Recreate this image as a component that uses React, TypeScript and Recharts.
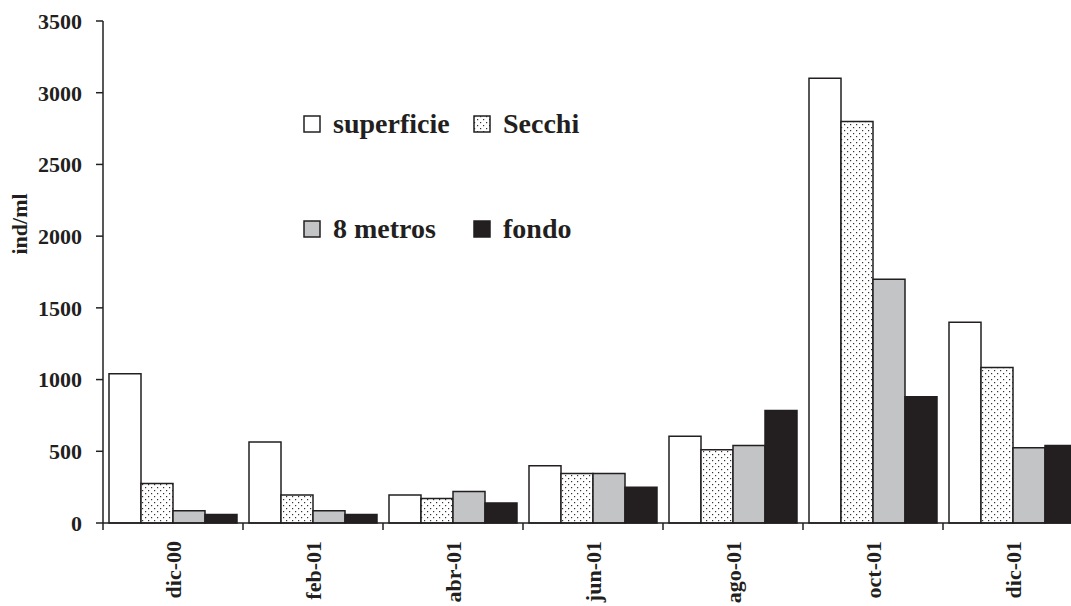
import { BarChart, Bar, XAxis, YAxis, Legend } from 'recharts'

// months sampled
const categories = ['dic-00', 'feb-01', 'abr-01', 'jun-01', 'ago-01', 'oct-01', 'dic-01']

// ind/ml per depth
const superficie = [1040, 565, 195, 400, 605, 3100, 1400]
const secchi = [275, 195, 170, 345, 510, 2800, 1085]
const metros8 = [85, 85, 220, 345, 540, 1700, 525]
const fondo = [60, 60, 140, 250, 785, 880, 540]

const yTicks = [0, 500, 1000, 1500, 2000, 2500, 3000, 3500]

const data = categories.map((month, i) => ({
  month,
  superficie: superficie[i],
  secchi: secchi[i],
  metros8: metros8[i],
  fondo: fondo[i],
}))

const INK = '#231f20'
const FONT = '"Liberation Serif", "Times New Roman", serif'

const CHART_W = 1100
const CHART_H = 606
const MARGIN = { top: 21, right: 17, bottom: 0, left: 0 }
const Y_AXIS_W = 103
const X_AXIS_H = 83
const HALF_BAND = (CHART_W - MARGIN.left - MARGIN.right - Y_AXIS_W) / categories.length / 2

const series = [
  { key: 'superficie', name: 'superficie', fill: '#ffffff' },
  { key: 'secchi', name: 'Secchi', fill: 'url(#dots)' },
  { key: 'metros8', name: '8 metros', fill: '#c3c4c6' },
  { key: 'fondo', name: 'fondo', fill: INK },
]

const DotPattern = ({ id }: { id: string }) => (
  <pattern id={id} width={6} height={6} patternUnits="userSpaceOnUse">
    <rect width={6} height={6} fill="#ffffff" />
    <rect x={1} y={1} width={1.2} height={1.2} fill="#333" />
    <rect x={4} y={4} width={1.2} height={1.2} fill="#333" />
  </pattern>
)

const MonthTick = ({ x, y, payload }: any) => {
  const ty = y + 18
  return (
    <g>
      <line x1={x - HALF_BAND} y1={y} x2={x - HALF_BAND} y2={y + 7} stroke={INK} strokeWidth={1.5} />
      <text
        x={x}
        y={ty}
        dy="0.35em"
        transform={`rotate(-90 ${x} ${ty})`}
        textAnchor="end"
        fill={INK}
        fontFamily={FONT}
        fontWeight="bold"
        fontSize={22}
      >
        {payload.value}
      </text>
    </g>
  )
}

const legendPos = [
  { left: 0, top: 0 },
  { left: 170, top: 0 },
  { left: 0, top: 105 },
  { left: 170, top: 105 },
]

const LegendContent = () => (
  <div style={{ position: 'relative', width: 320, height: 140 }}>
    {series.map((s, i) => (
      <div
        key={s.key}
        style={{ position: 'absolute', ...legendPos[i], display: 'flex', alignItems: 'center', whiteSpace: 'nowrap' }}
      >
        <svg width={18} height={18} style={{ display: 'block' }}>
          <defs>
            <DotPattern id="dotsLegend" />
          </defs>
          <rect
            x={1}
            y={1}
            width={16}
            height={16}
            fill={s.key === 'secchi' ? 'url(#dotsLegend)' : s.fill}
            stroke={INK}
            strokeWidth={1.5}
          />
        </svg>
        <span
          style={{ marginLeft: 12, fontFamily: FONT, fontWeight: 'bold', fontSize: 28, color: INK, lineHeight: '28px' }}
        >
          {s.name}
        </span>
      </div>
    ))}
  </div>
)

export default function App() {
  return (
    <div style={{ position: 'absolute', left: 0, top: 0, width: 1071, height: 606, overflow: 'hidden', background: '#fff' }}>
      <BarChart
        width={CHART_W}
        height={CHART_H}
        data={data}
        margin={MARGIN}
        barCategoryGap={6}
        barGap={0}
      >
        <defs>
          <DotPattern id="dots" />
        </defs>
        <XAxis
          dataKey="month"
          height={X_AXIS_H}
          tickLine={false}
          tickSize={0}
          tickMargin={0}
          axisLine={{ stroke: INK, strokeWidth: 1.5 }}
          tick={<MonthTick />}
          interval={0}
        />
        <YAxis
          width={Y_AXIS_W}
          domain={[0, 3500]}
          ticks={yTicks}
          interval={0}
          tickSize={7}
          tickMargin={14}
          axisLine={{ stroke: INK, strokeWidth: 1.5 }}
          tickLine={{ stroke: INK, strokeWidth: 1.5 }}
          tick={{ fill: INK, fontFamily: FONT, fontWeight: 'bold', fontSize: 22 }}
          label={{
            content: () => (
              <text
                x={19}
                y={224}
                transform="rotate(-90 19 224)"
                textAnchor="middle"
                dy="0.35em"
                fill={INK}
                fontFamily={FONT}
                fontWeight="bold"
                fontSize={22}
              >
                ind/ml
              </text>
            ),
          }}
        />
        <Legend
          layout="horizontal"
          verticalAlign="middle"
          align="center"
          content={<LegendContent />}
          wrapperStyle={{ position: 'absolute', left: 303, top: 110, width: 320, height: 140 }}
        />
        {series.map((s) => (
          <Bar
            key={s.key}
            dataKey={s.key}
            name={s.name}
            fill={s.fill}
            stroke={INK}
            strokeWidth={1.5}
            isAnimationActive={false}
          />
        ))}
      </BarChart>
    </div>
  )
}
